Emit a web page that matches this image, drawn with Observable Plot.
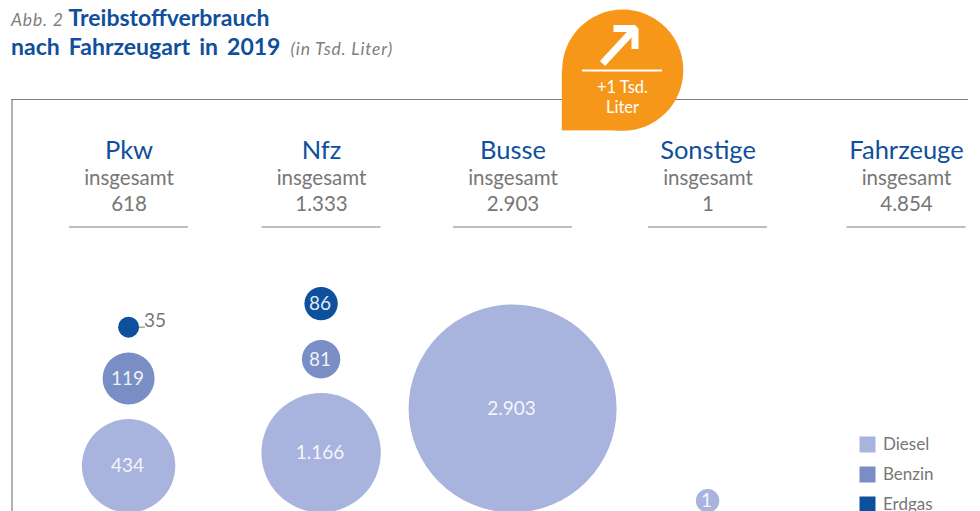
<!DOCTYPE html>
<html lang="de">
<head>
<meta charset="utf-8">
<script src="https://cdn.jsdelivr.net/npm/d3@7"></script>
<script src="https://cdn.jsdelivr.net/npm/@observablehq/plot@0.6"></script>
<style>
  html, body { margin: 0; padding: 0; background: #fff; overflow: hidden; }
  body { width: 980px; height: 511px; position: relative; font-family: Lato, sans-serif; }
  #title { position: absolute; left: 11px; top: 3px; font-size: 23px; font-weight: 700; color: #0f4f9b; z-index: 2; white-space: nowrap; }
  #title div { height: 29px; line-height: 29px; }
  #title i { font-weight: 400; font-size: 17.5px; color: #808080; letter-spacing: .8px; }
  #title .l2 { word-spacing: 3.5px; }
  #title .l2 i { word-spacing: 0; margin-left: 1px; }
  #chart { position: absolute; left: 0; top: 0; }
</style>
</head>
<body>
<div id="title"><div><i>Abb. 2</i> Treibstoffverbrauch</div><div class="l2">nach Fahrzeugart in 2019 <i>(in Tsd. Liter)</i></div></div>
<div id="chart"></div>
<script>
// --- Data ---
const categories = ["Pkw", "Nfz", "Busse", "Sonstige", "Fahrzeuge"];
const totals = [618, 1333, 2903, 1, 4854];
const fuels = ["Diesel", "Benzin", "Erdgas"];
const diesel = [434, 1166, 2903, 1];
const benzin = [119, 81, null, null];
const erdgas = [35, 86, null, null];
const badgeLines = ["+1 Tsd.", "Liter"];

// --- Layout & style ---
const W = 980, H = 511;
const FONT = "Lato, sans-serif";
const BLUE = "#0f4f9b", GRAY = "#777777", LINE = "#7f7f7f", ORANGE = "#f7971a";
const columnX = [128.5, 321, 512.5, 707.5, 906];
const fuelColors = ["#a8b3de", "#7a8ec6", "#0c509e"];
const fmt = v => v.toLocaleString("de-DE");

// The published bubble sizes are hand-set, so the radius scale is piecewise.
const rOptions = {
  type: "linear",
  domain: [1, 35, 81, 86, 119, 434, 1166, 2903],
  range: [11.7, 10.5, 19.2, 16.7, 26, 46.7, 59.7, 104]
};
const rScale = Plot.scale({r: rOptions});

// Bubbles are stacked upwards from a common floor.
const floorY = 512, gap = 14.7, wideGap = 19.7;
const series = [diesel, benzin, erdgas];
const bubbles = [];
categories.slice(0, 4).forEach((category, c) => {
  let top = floorY;
  fuels.forEach((fuel, f) => {
    const value = series[f][c];
    if (value == null) return;
    const r = rScale.apply(value);
    const g = f === 0 ? 0 : (c === 1 && f === 2 ? wideGap : gap);
    const cy = top - g - r;
    top = cy - r;
    bubbles.push({category, fuel, value, x: columnX[c] - 0.4, y: cy, r});
  });
});
const outside = d => d.value === 35;
const headers = categories.map((name, i) => ({name, total: totals[i], x: columnX[i]}));
const legend = fuels.map((fuel, i) => ({fuel, y: 444 + i * 30}));

const textBase = {fontFamily: FONT, lineAnchor: "bottom"};

const plot = Plot.plot({
  width: W, height: H,
  margin: 0,
  style: {background: "transparent", overflow: "hidden"},
  x: {type: "identity", axis: null},
  y: {type: "identity", axis: null},
  r: rOptions,
  color: {domain: fuels, range: fuelColors},
  marks: [
    // frame
    Plot.ruleY([99], {x1: 11.5, x2: 968, stroke: LINE, strokeWidth: 1.2}),
    Plot.ruleX([11.5], {y1: 99, y2: H, stroke: LINE, strokeWidth: 1.2}),

    // badge
    Plot.rect([0], {x1: 561.8, x2: 622.4, y1: 70, y2: 130.4, fill: ORANGE}),
    Plot.dot([0], {x: () => 622.2, y: () => 69.7, r: 60.6, fill: ORANGE}),
    Plot.line([[602, 63], [634.5, 28]], {x: d => d[0], y: d => d[1], stroke: "#fff", strokeWidth: 7, strokeLinecap: "butt"}),
    Plot.line([[613, 28], [634.5, 28], [634.5, 48.5]], {x: d => d[0], y: d => d[1], stroke: "#fff", strokeWidth: 7, strokeLinejoin: "miter", strokeLinecap: "butt"}),
    Plot.ruleY([70], {x1: 582, x2: 662, stroke: "#fff", strokeWidth: 2}),
    Plot.text(badgeLines, {text: d => d, x: () => 622, y: (d, i) => 92 + i * 20, fill: "#fff", fontSize: 16.5, letterSpacing: ".8px", ...textBase}),

    // column headers
    Plot.text(headers, {x: "x", y: () => 158, text: "name", fill: BLUE, fontSize: 25.5, ...textBase}),
    Plot.text(headers, {x: "x", y: () => 184.5, text: () => "insgesamt", fill: GRAY, fontSize: 20.5, letterSpacing: ".1px", ...textBase}),
    Plot.text(headers, {x: "x", y: () => 210.5, text: d => fmt(d.total), fill: GRAY, fontSize: 20.5, letterSpacing: "1.2px", ...textBase}),
    Plot.ruleY(headers, {y: () => 226.5, x1: d => d.x - 59.5, x2: d => d.x + 59.5, stroke: LINE, strokeWidth: 1.2}),

    // bubbles
    Plot.line([[139, 326.6], [144, 326.6]], {x: d => d[0], y: d => d[1], stroke: GRAY, strokeWidth: 1}),
    Plot.dot(bubbles, {x: "x", y: "y", r: "value", fill: "fuel"}),
    Plot.text(bubbles.filter(d => !outside(d)), {x: "x", y: "y", dx: -1, dy: 0.5, text: d => fmt(d.value), fill: "#fff", fillOpacity: 0.9, fontSize: 19, letterSpacing: ".5px", fontFamily: FONT}),
    Plot.text(bubbles.filter(outside), {x: d => d.x + 15.5, y: d => d.y - 6.5, text: d => fmt(d.value), fill: GRAY, fontSize: 19, textAnchor: "start", letterSpacing: ".4px", fontFamily: FONT}),

    // legend
    Plot.dot(legend, {x: () => 867, y: "y", r: 9.03, symbol: "square", fill: "fuel"}),
    Plot.text(legend, {x: () => 882.5, y: "y", text: "fuel", fill: GRAY, fontSize: 17, textAnchor: "start", fontFamily: FONT})
  ]
});
document.getElementById("chart").append(plot);
</script>
</body>
</html>
